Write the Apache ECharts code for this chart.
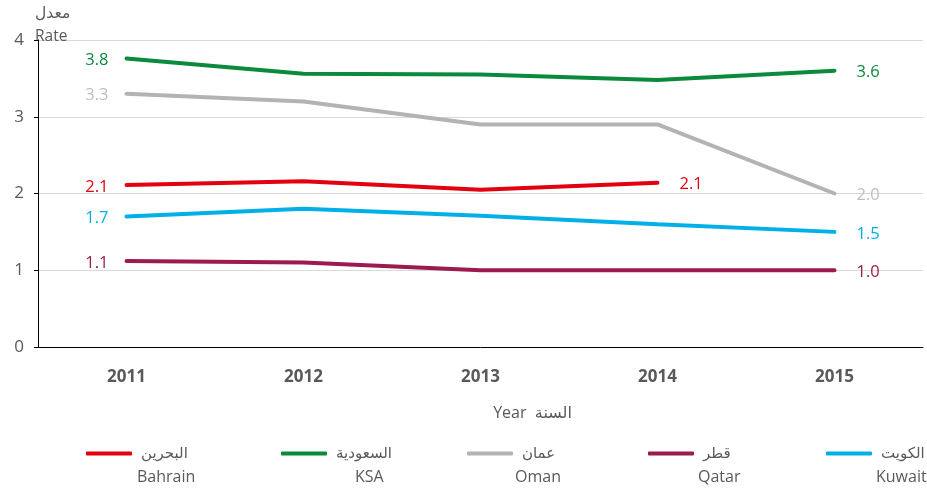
<!DOCTYPE html>
<html>
<head>
<meta charset="utf-8">
<script src="https://cdn.jsdelivr.net/npm/echarts@6/dist/echarts.min.js"></script>
<style>
  html, body { margin: 0; padding: 0; background: #fff; }
  #chart { width: 927px; height: 489px; }
</style>
</head>
<body>
<div id="chart"></div>
<script>
// years on the x axis
const years = ['2011', '2012', '2013', '2014', '2015'];

// series names (Arabic / English) and colours
const namesAr = ['البحرين', 'السعودية', 'عمان', 'قطر', 'الكويت'];
const namesEn = ['Bahrain', 'KSA', 'Oman', 'Qatar', 'Kuwait'];
const colors = ['#e3000f', '#0b8a3c', '#b3b3b3', '#9b1b4f', '#00b0e6'];
const labelColors = ['#e3000f', '#0b8a3c', '#bfbfbf', '#9b1b4f', '#00b0e6'];

// rates
const bahrain = [2.11, 2.16, 2.05, 2.14, null];
const ksa = [3.76, 3.56, 3.55, 3.48, 3.60];
const oman = [3.30, 3.20, 2.90, 2.90, 2.00];
const qatar = [1.12, 1.10, 1.00, 1.00, 1.00];
const kuwait = [1.70, 1.80, 1.71, 1.60, 1.50];

const seriesValues = [bahrain, ksa, oman, qatar, kuwait];

// y ticks
const yMin = 0, yMax = 4, yStep = 1;

// legend slot positions
const legendLeftAr = [86, 281, 467, 648, 826];
const legendLeftEn = [137, 355, 515, 698, 876];

const FONT = '"Open Sans", "DejaVu Sans", sans-serif';

function buildData(values, idx) {
    let first = values.findIndex(v => v != null);
    let last = -1;
    values.forEach((v, i) => { if (v != null) last = i; });
    return values.map((v, i) => {
        if (v == null) return null;
        const item = { value: v };
        if (i === first || i === last) {
            item.label = {
                show: true,
                position: i === first ? 'left' : 'right',
                distance: i === first ? 18 : 22,
                offset: [0, 2],
                color: labelColors[idx],
                fontSize: 16.5,
                fontFamily: FONT,
                formatter: p => Number(p.value).toFixed(1)
            };
        }
        return item;
    });
}

const chart = echarts.init(document.getElementById('chart'));

const legends = [];
namesAr.forEach((n, i) => {
    legends.push({
        data: [n],
        left: legendLeftAr[i] - 5,
        top: 441,
        itemWidth: 46,
        itemHeight: 4,
        icon: 'roundRect',
        selectedMode: false,
        textStyle: { color: '#595959', fontSize: 15, fontFamily: FONT, padding: [0, 0, 0, 4] }
    });
    legends.push({
        data: [{ name: n, icon: 'none' }],
        left: legendLeftEn[i] - 10,
        top: 464,
        itemWidth: 0,
        itemGap: 0,
        selectedMode: false,
        formatter: () => namesEn[i],
        textStyle: { color: '#595959', fontSize: 16, fontFamily: FONT }
    });
});

const option = {
    animation: false,
    backgroundColor: '#fff',
    grid: { left: 38, right: 4, top: 40, bottom: 142 },
    legend: legends,
    xAxis: {
        type: 'category',
        data: years,
        boundaryGap: true,
        name: 'Year  السنة',
        nameLocation: 'middle',
        nameGap: 58,
        nameTextStyle: { color: '#595959', fontSize: 16, fontFamily: FONT, padding: [0, 0, 0, 104] },
        axisLine: { lineStyle: { color: '#000', width: 1 } },
        axisTick: { alignWithLabel: true, length: 5, lineStyle: { color: '#000' } },
        axisLabel: { color: '#595959', fontSize: 17, fontWeight: 'bold', fontFamily: FONT, margin: 22 },
        splitLine: { show: false }
    },
    yAxis: {
        type: 'value',
        min: yMin,
        max: yMax,
        interval: yStep,
        name: 'معدل\nRate',
        nameLocation: 'end',
        nameGap: -8,
        nameTextStyle: { color: '#595959', fontSize: 15.5, fontFamily: FONT, align: 'left', verticalAlign: 'bottom', lineHeight: 23, padding: [0, 0, 0, -3] },
        axisLine: { show: true, lineStyle: { color: '#000', width: 1 } },
        axisTick: { show: true, length: 4, lineStyle: { color: '#000' } },
        axisLabel: { color: '#595959', fontSize: 17, fontFamily: FONT, margin: 14 },
        splitLine: { lineStyle: { color: '#d9d9d9', width: 1 } }
    },
    series: seriesValues.map((vals, i) => ({
        name: namesAr[i],
        type: 'line',
        data: buildData(vals, i),
        color: colors[i],
        lineStyle: { width: 4, color: colors[i], cap: 'round' },
        showSymbol: true,
        symbol: 'circle',
        symbolSize: 0,
        connectNulls: false,
        z: 3
    }))
};

chart.setOption(option);
</script>
</body>
</html>
